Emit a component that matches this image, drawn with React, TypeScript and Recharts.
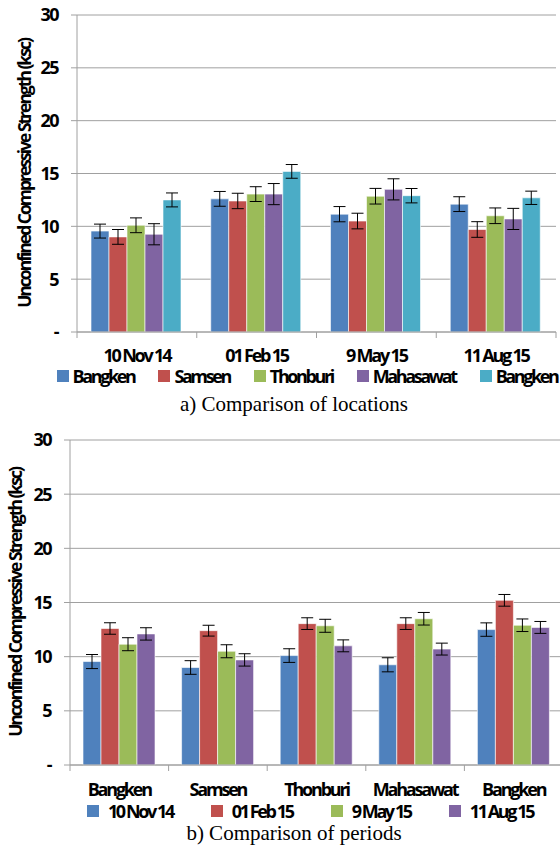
import React from "react";
import { BarChart, Bar, XAxis, YAxis, CartesianGrid, ErrorBar, Legend } from "recharts";

const periods = ["10 Nov 14", "01 Feb 15", "9 May 15", "11 Aug 15"];
const locations = ["Bangken", "Samsen", "Thonburi", "Mahasawat", "Bangken"];

// mean UCS per location, one value per period
const bangkenA = [9.55, 12.6, 11.15, 12.1];
const samsen = [9.0, 12.4, 10.5, 9.7];
const thonburi = [10.1, 13.05, 12.85, 11.0];
const mahasawat = [9.25, 13.05, 13.5, 10.7];
const bangkenB = [12.5, 15.2, 12.9, 12.7];

// error bars drawn in chart a), per location
const errBangkenA = [0.66, 0.7, 0.72, 0.7];
const errSamsen = [0.7, 0.73, 0.74, 0.74];
const errThonburi = [0.7, 0.7, 0.74, 0.74];
const errMahasawat = [1.0, 1.0, 1.0, 1.0];
const errBangkenB = [0.66, 0.65, 0.68, 0.63];

// error bars drawn in chart b), per period
const errNov14 = [0.65, 0.63, 0.63, 0.65, 0.62];
const errFeb15 = [0.53, 0.5, 0.54, 0.54, 0.54];
const errMay15 = [0.6, 0.6, 0.6, 0.58, 0.58];
const errAug15 = [0.57, 0.57, 0.55, 0.55, 0.55];

const yTicks = [0, 5, 10, 15, 20, 25, 30];

const byLocation = [bangkenA, samsen, thonburi, mahasawat, bangkenB];
const errA = [errBangkenA, errSamsen, errThonburi, errMahasawat, errBangkenB];
const errB = [errNov14, errFeb15, errMay15, errAug15];

const locationColors = ["#4F81BD", "#C0504D", "#9BBB59", "#8064A2", "#4BACC6"];
const periodColors = ["#4F81BD", "#C0504D", "#9BBB59", "#8064A2"];

const dataA = periods.map((period, i) => {
  const row: Record<string, string | number> = { period };
  byLocation.forEach((s, j) => {
    row[`l${j}`] = s[i];
    row[`e${j}`] = errA[j][i];
  });
  return row;
});

const dataB = locations.map((location, j) => {
  const row: Record<string, string | number> = { location };
  periods.forEach((_, i) => {
    row[`p${i}`] = byLocation[j][i];
    row[`e${i}`] = errB[i][j];
  });
  return row;
});

const gray = "#a0a0a0";
const boldFont = {
  fontFamily: "'Open Sans', sans-serif",
  fontWeight: 700,
  fontSize: 18,
  letterSpacing: -2.2,
  fill: "#000",
};

function boundaryTick(count: number, labelDy: number) {
  return (props: any) => {
    const { x, y, payload, index } = props;
    const half = payload.offset ?? 0;
    return (
      <g>
        <line x1={x - half} x2={x - half} y1={y} y2={y + 6} stroke={gray} />
        {index === count - 1 && <line x1={x + half} x2={x + half} y1={y} y2={y + 6} stroke={gray} />}
        <text x={x} y={y + labelDy} textAnchor="middle" style={boldFont}>
          {payload.value}
        </text>
      </g>
    );
  };
}

// legend keeps the series order (the library would sort the entries by name)
function legendContent(names: string[], colors: string[], gap: number, padLeft: number, textGap: number) {
  return () => (
    <div
      style={{
        display: "flex",
        justifyContent: "center",
        alignItems: "center",
        gap,
        height: 18,
        paddingLeft: padLeft,
        whiteSpace: "nowrap",
      }}
    >
      {names.map((name, i) => (
        <div key={i} style={{ display: "flex", alignItems: "center", height: 18 }}>
          <span style={{ width: 12, height: 12, background: colors[i], marginRight: textGap, display: "inline-block" }} />
          <span
            style={{
              fontFamily: boldFont.fontFamily,
              fontWeight: 700,
              fontSize: 18,
              letterSpacing: -2.4,
              color: "#000",
              lineHeight: "18px",
            }}
          >
            {name}
          </span>
        </div>
      ))}
    </div>
  );
}

const yLabel = "Unconfined Compressive Strength (ksc)";

function yAxisProps(width: number, labelX: number) {
  return {
    width,
    domain: [0, 30] as [number, number],
    ticks: yTicks,
    interval: 0 as const,
    tickFormatter: (v: number) => (v === 0 ? "-" : String(v)),
    tickSize: 6,
    tickMargin: 13,
    axisLine: { stroke: gray },
    tickLine: { stroke: gray },
    tick: { ...boldFont, letterSpacing: -1.5 },
    label: {
      value: yLabel,
      angle: -90,
      position: "insideLeft" as const,
      offset: labelX,
      style: { ...boldFont, fontSize: 17.5, letterSpacing: -2, textAnchor: "middle" },
    },
  };
}

const caption = {
  position: "absolute" as const,
  left: 94,
  width: 400,
  textAlign: "center" as const,
  fontFamily: "'Liberation Serif', 'Times New Roman', serif",
  fontSize: 21,
  lineHeight: "21px",
  color: "#000",
};

export default function App() {
  return (
    <div style={{ position: "relative", width: 560, height: 848, overflow: "hidden", background: "#fff" }}>
      <style>{"body{margin:0}"}</style>

      <div style={{ position: "absolute", left: 0, top: 0 }}>
        <BarChart
          width={560}
          height={385}
          data={dataA}
          margin={{ top: 15, right: 4, bottom: 0, left: 0 }}
          barCategoryGap={14}
          barGap={0}
        >
          <CartesianGrid vertical={false} stroke={gray} />
          <XAxis
            dataKey="period"
            height={35}
            interval={0}
            tickSize={0}
            tickMargin={0}
            tickLine={false}
            axisLine={{ stroke: gray }}
            tick={boundaryTick(periods.length, 30)}
          />
          <YAxis {...yAxisProps(77, 25)} />
          <Legend verticalAlign="bottom" content={legendContent(locations, locationColors, 24, 58, 4)} />
          {locations.map((loc, j) => (
            <Bar
              key={j}
              dataKey={`l${j}`}
              name={loc}
              fill={locationColors[j]}
              stroke="#ffffff"
              strokeOpacity={0.6}
              isAnimationActive={false}
            >
              <ErrorBar dataKey={`e${j}`} width={6} stroke="#000" strokeWidth={1} direction="y" />
            </Bar>
          ))}
        </BarChart>
      </div>
      <div style={{ ...caption, top: 394 }}>a) Comparison of locations</div>

      <div style={{ position: "absolute", left: 0, top: 425 }}>
        <BarChart
          width={564}
          height={395}
          data={dataB}
          margin={{ top: 15, right: 1, bottom: 0, left: 0 }}
          barCategoryGap={13}
          barGap={0}
        >
          <CartesianGrid vertical={false} stroke={gray} />
          <XAxis
            dataKey="location"
            height={37}
            interval={0}
            tickSize={0}
            tickMargin={0}
            tickLine={false}
            axisLine={{ stroke: gray }}
            tick={boundaryTick(locations.length, 31)}
          />
          <YAxis {...yAxisProps(70, 16)} />
          <Legend verticalAlign="bottom" content={legendContent(periods, periodColors, 38, 57, 9)} />
          {periods.map((p, i) => (
            <Bar
              key={i}
              dataKey={`p${i}`}
              name={p}
              fill={periodColors[i]}
              stroke="#ffffff"
              strokeOpacity={0.6}
              isAnimationActive={false}
            >
              <ErrorBar dataKey={`e${i}`} width={6} stroke="#000" strokeWidth={1} direction="y" />
            </Bar>
          ))}
        </BarChart>
      </div>
      <div style={{ ...caption, top: 823 }}>b) Comparison of periods</div>
    </div>
  );
}
